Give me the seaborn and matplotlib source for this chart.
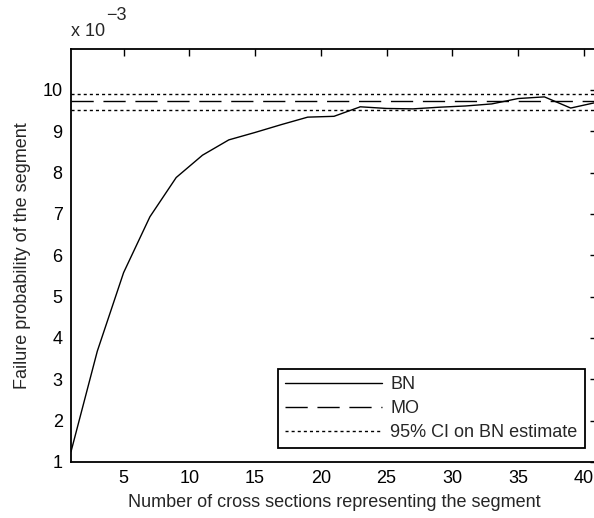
import numpy as np
import pandas as pd
import matplotlib
import matplotlib.pyplot as plt
import seaborn as sns

matplotlib.use('Agg')

# data (failure probability in units of 1e-3)
n_sections = [1, 3, 5, 7, 9, 11, 13, 15, 17, 19, 21,
              23, 25, 27, 29, 31, 33, 35, 37, 39, 41]
bn_prob = [1.25, 3.68, 5.58, 6.93, 7.88, 8.42, 8.79, 8.97, 9.16, 9.34, 9.36,
           9.59, 9.55, 9.54, 9.58, 9.61, 9.66, 9.79, 9.83, 9.56, 9.70]
mo_prob = 9.73
ci_low = 9.52
ci_high = 9.91

x_ticks = [5, 10, 15, 20, 25, 30, 35, 40]
y_ticks = [1, 2, 3, 4, 5, 6, 7, 8, 9, 10]

sns.set_style('white')
plt.rcParams['font.family'] = ['Liberation Sans', 'DejaVu Sans']
plt.rcParams['font.size'] = 13

df = pd.DataFrame({'n': n_sections, 'p': bn_prob})

fig = plt.figure(figsize=(5.94, 5.18), dpi=100)
ax = fig.add_axes([71 / 594, 56 / 518, 526 / 594, 413.5 / 518])

sns.lineplot(data=df, x='n', y='p', ax=ax, color='black', linewidth=1.0, label='BN')
ax.axhline(mo_prob, color='black', linewidth=1.0, linestyle=(0, (16, 7)), label='MO')
ax.axhline(ci_high, color='black', linewidth=1.0, linestyle=(0, (2.2, 2.2)),
           label='95% CI on BN estimate')
ax.axhline(ci_low, color='black', linewidth=1.0, linestyle=(0, (2.2, 2.2)))

ax.set_xlim(1, 41)
ax.set_ylim(1, 11)
ax.set_xticks(x_ticks)
ax.set_yticks(y_ticks)
ax.tick_params(direction='in', length=5, width=1, top=True, right=True,
               labelsize=13, colors='black', pad=6)
for s in ax.spines.values():
    s.set_visible(True)
    s.set_color('black')
    s.set_linewidth(1.3)

ax.set_xlabel('Number of cross sections representing the segment', fontsize=13, labelpad=5)
ax.set_ylabel('Failure probability of the segment', fontsize=13, labelpad=8)

# MATLAB style exponent label
ax.text(0.0, 1.02, 'x 10', transform=ax.transAxes, fontsize=13, ha='left', va='bottom')
ax.text(0.066, 1.06, '\u22123', transform=ax.transAxes, fontsize=13, ha='left', va='bottom')

leg = ax.legend(loc='lower right', bbox_to_anchor=(0.977, 0.033), borderaxespad=0,
                fancybox=False, frameon=True, edgecolor='black', framealpha=1,
                fontsize=13, handlelength=5.4, handletextpad=0.45,
                labelspacing=0.38, borderpad=0.4)
leg.get_frame().set_linewidth(1.3)

fig.savefig('out.png', dpi=100)
